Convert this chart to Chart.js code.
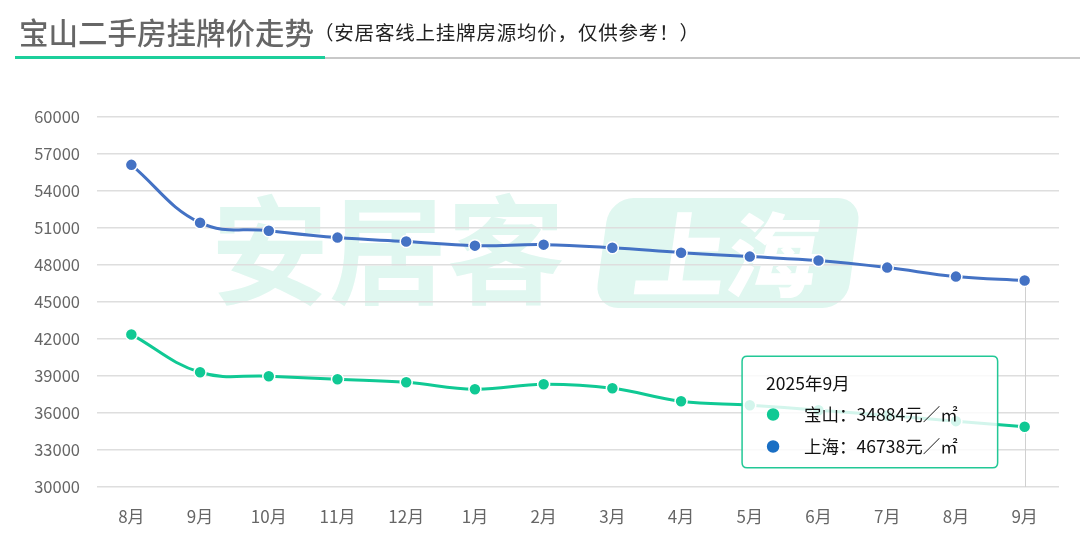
<!DOCTYPE html>
<html>
<head>
<meta charset="utf-8">
<script src="https://cdn.jsdelivr.net/npm/chart.js@4.4.1/dist/chart.umd.min.js"></script>
<style>
  html, body { margin: 0; padding: 0; background: #fff; }
  body { width: 1080px; height: 535px; position: relative; overflow: hidden; font-family: "Noto Sans CJK SC", "Noto Sans", sans-serif; }
  #chartBox { position: absolute; left: 0; top: 0; width: 1080px; height: 535px; }
  .title { position: absolute; left: 19px; top: 10px; white-space: nowrap; }
  .title .main { font-size: 29.5px; font-weight: 500; color: #666; vertical-align: middle; }
  .title .sub { font-size: 19.5px; color: #222; vertical-align: middle; letter-spacing: 0.8px; }
  .rule-green { position: absolute; left: 15px; top: 56px; width: 310px; height: 3px; background: #1ccf9b; }
  .rule-gray { position: absolute; left: 325px; top: 57px; width: 755px; height: 2px; background: #c8c8c8; }
</style>
</head>
<body>
<div id="chartBox"><canvas id="priceChart" width="1080" height="535"></canvas></div>
<div class="title"><span class="main">宝山二手房挂牌价走势</span><span class="sub">（安居客线上挂牌房源均价，仅供参考！）</span></div>
<div class="rule-green"></div>
<div class="rule-gray"></div>
<script>
const monthLabels = ['8月', '9月', '10月', '11月', '12月', '1月', '2月', '3月', '4月', '5月', '6月', '7月', '8月', '9月'];
const monthYears = [2024, 2024, 2024, 2024, 2024, 2025, 2025, 2025, 2025, 2025, 2025, 2025, 2025, 2025];
const baoshanPrice = [42370, 39300, 38980, 38730, 38490, 37920, 38330, 38000, 36950, 36630, 36230, 35800, 35340, 34884];
const shanghaiPrice = [56120, 51430, 50780, 50220, 49900, 49570, 49650, 49400, 49000, 48680, 48360, 47790, 47060, 46738];
const yTicks = { min: 30000, max: 60000, step: 3000 };

const GREEN = '#10c994';
const BLUE = '#4472c4';
const TIP_BLUE = '#1a6fc4';
const FONT = '"Noto Sans CJK SC", "Noto Sans", sans-serif';

// faint site watermark behind the grid
const watermark = {
  id: 'watermark',
  beforeDraw(chart) {
    const ctx = chart.ctx;
    ctx.save();
    ctx.fillStyle = '#e0f7f0';
    ctx.font = `700 118px ${FONT}`;
    ctx.textAlign = 'center';
    ctx.textBaseline = 'middle';
    ctx.fillText('安居客', 388, 250);
    ctx.translate(728, 253);
    ctx.transform(1, 0, -0.14, 1, 0, 0);
    ctx.beginPath();
    ctx.roundRect(-126, -55, 252, 110, 24);
    ctx.fill();
    ctx.fillStyle = '#ffffff';
    ctx.font = `900 92px ${FONT}`;
    ctx.fillText('上海', 0, 2);
    ctx.restore();
  }
};

// thin vertical guide under the hovered month
const hoverLine = {
  id: 'hoverLine',
  beforeDatasetsDraw(chart) {
    const active = chart.getActiveElements();
    if (!active.length) return;
    const x = active[0].element.x;
    const top = Math.min(...active.map(a => a.element.y));
    const ctx = chart.ctx;
    ctx.save();
    ctx.strokeStyle = '#d0d0d0';
    ctx.lineWidth = 1;
    ctx.beginPath();
    ctx.moveTo(Math.round(x) + 0.5, top);
    ctx.lineTo(Math.round(x) + 0.5, chart.chartArea.bottom);
    ctx.stroke();
    ctx.restore();
  }
};

Chart.Tooltip.positioners.leftOfPoint = function(elements) {
  if (!elements.length) return false;
  return { x: elements[0].element.x, y: this.chart.chartArea.bottom - 75 };
};

function lineSet(label, data, color) {
  return {
    label, data,
    borderColor: color,
    backgroundColor: color,
    borderWidth: 3,
    tension: 0.4,
    pointRadius: 6,
    pointHoverRadius: 6,
    pointBorderColor: '#ffffff',
    pointHoverBorderColor: '#ffffff',
    pointBorderWidth: 1.5,
    pointHoverBorderWidth: 1.5,
    pointBackgroundColor: color,
    pointHoverBackgroundColor: color
  };
}

const chart = new Chart(document.getElementById('priceChart'), {
  type: 'line',
  data: {
    labels: monthLabels,
    datasets: [
      lineSet('宝山', baoshanPrice, GREEN),
      lineSet('上海', shanghaiPrice, BLUE)
    ]
  },
  options: {
    responsive: false,
    animation: false,
    events: [],
    layout: { padding: { top: 117, right: 21, bottom: 0, left: 0 } },
    plugins: {
      legend: { display: false },
      tooltip: {
        position: 'leftOfPoint',
        xAlign: 'right',
        yAlign: 'center',
        caretSize: 0,
        caretPadding: 27,
        mode: 'index',
        intersect: false,
        backgroundColor: 'rgba(255,255,255,0.82)',
        borderColor: '#22c896',
        borderWidth: 1.5,
        cornerRadius: 5,
        padding: { top: 18.5, bottom: 12.5, left: 24, right: 40 },
        titleColor: '#111',
        bodyColor: '#111',
        titleFont: { family: FONT, size: 17.5, weight: 'normal', lineHeight: 1 },
        bodyFont: { family: FONT, size: 17.5, lineHeight: 1 },
        titleMarginBottom: 13.5,
        bodySpacing: 14.5,
        usePointStyle: true,
        boxWidth: 14,
        boxHeight: 11,
        boxPadding: 22,
        callbacks: {
          title: items => `${monthYears[items[0].dataIndex]}年${monthLabels[items[0].dataIndex]}`,
          label: item => `${item.dataset.label}：${item.raw}元／㎡`,
          labelColor: item => {
            const c = item.datasetIndex === 0 ? GREEN : TIP_BLUE;
            return { borderColor: c, backgroundColor: c };
          },
          labelPointStyle: () => ({ pointStyle: 'circle', rotation: 0 })
        }
      }
    },
    scales: {
      x: {
        offset: true,
        grid: { display: false },
        border: { display: false },
        ticks: { color: '#666', font: { family: FONT, size: 17 }, padding: 11, maxRotation: 0 },
        afterFit: s => { s.height = 48; }
      },
      y: {
        min: yTicks.min,
        max: yTicks.max,
        grid: { color: '#dedede', lineWidth: 1.5, drawTicks: false },
        border: { display: false },
        ticks: {
          stepSize: yTicks.step, color: '#666', font: { family: FONT, size: 16.5 }, padding: 17,
          callback: v => String(v)
        },
        afterFit: s => { s.width = 97; }
      }
    }
  },
  plugins: [watermark, hoverLine]
});

const last = monthLabels.length - 1;
const activeSet = [{ datasetIndex: 0, index: last }, { datasetIndex: 1, index: last }];
chart.setActiveElements(activeSet);
chart.tooltip.setActiveElements(activeSet, { x: 0, y: 0 });
chart.update();
</script>
</body>
</html>
